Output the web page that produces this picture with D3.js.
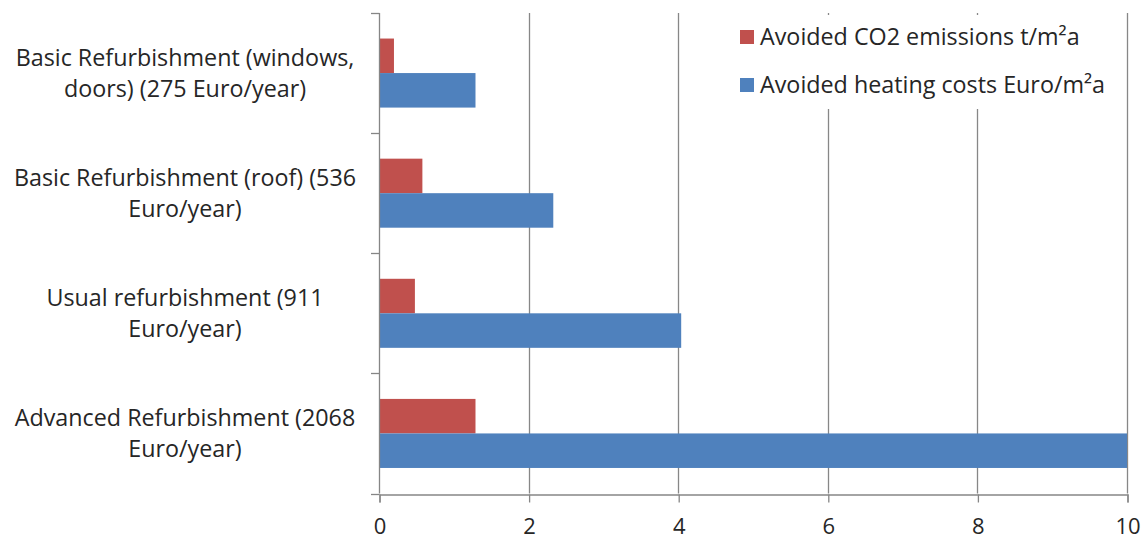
<!DOCTYPE html>
<html>
<head>
<meta charset="utf-8">
<script src="https://cdn.jsdelivr.net/npm/d3@7"></script>
<style>
  html, body { margin: 0; padding: 0; background: #fff; }
  svg text { font-family: "Open Sans", "Lato", sans-serif; fill: #262626; }
</style>
</head>
<body>
<svg id="chart" width="1145" height="541"></svg>
<script>
// Category labels, one entry per wrapped line
const categories = [
  "Basic Refurbishment (windows, doors) (275 Euro/year)",
  "Basic Refurbishment (roof) (536 Euro/year)",
  "Usual refurbishment (911 Euro/year)",
  "Advanced Refurbishment (2068 Euro/year)"
];
const categoryLines = [
  ["Basic Refurbishment (windows,", "doors) (275 Euro/year)"],
  ["Basic Refurbishment (roof) (536", "Euro/year)"],
  ["Usual refurbishment (911", "Euro/year)"],
  ["Advanced Refurbishment (2068", "Euro/year)"]
];
const seriesNames = ["Avoided CO2 emissions t/m²a", "Avoided heating costs Euro/m²a"];
const co2Values = [0.2, 0.58, 0.48, 1.29];
const heatingValues = [1.29, 2.33, 4.04, 10];
const xTicks = [0, 2, 4, 6, 8, 10];
const seriesColors = ["#C0504D", "#4F81BD"];

const svg = d3.select("#chart");
const plot = { left: 379, right: 1127, top: 13, bottom: 493.5 };
const fontSize = 23.3;
const tickFontSize = 22;

const x = d3.scaleLinear().domain([0, 10]).range([plot.left, plot.right]);
const y = d3.scaleBand().domain(categories).range([plot.top, plot.bottom]).padding(0);
const ySub = d3.scaleBand().domain(seriesNames).range([0, y.bandwidth()])
  .paddingInner(0).paddingOuter(0.74);

// vertical gridlines
svg.append("g").selectAll("line").data(xTicks.filter(d => d > 0)).join("line")
  .attr("x1", d => Math.round(x(d)) + 0.5).attr("x2", d => Math.round(x(d)) + 0.5)
  .attr("y1", plot.top).attr("y2", plot.bottom)
  .attr("stroke", "#878787").attr("stroke-width", 1.3);

// bars
const rows = categories.map((c, i) => ({ cat: c, vals: [co2Values[i], heatingValues[i]] }));
const groups = svg.append("g").selectAll("g").data(rows).join("g")
  .attr("transform", d => `translate(0,${y(d.cat)})`);
groups.selectAll("rect").data(d => d.vals.map((v, k) => ({ v, k }))).join("rect")
  .attr("x", x(0))
  .attr("y", d => ySub(seriesNames[d.k]))
  .attr("width", d => x(d.v) - x(0))
  .attr("height", ySub.bandwidth())
  .attr("fill", d => seriesColors[d.k]);

// y axis (category) with ticks at band boundaries
const axisColor = "#868686";
svg.append("line")
  .attr("x1", plot.left + 0.5).attr("x2", plot.left + 0.5)
  .attr("y1", plot.top).attr("y2", plot.bottom)
  .attr("stroke", axisColor).attr("stroke-width", 1.3);
const bounds = categories.map(c => y(c)).concat([plot.bottom]);
svg.append("g").selectAll("line").data(bounds).join("line")
  .attr("x1", plot.left - 8).attr("x2", plot.left + 0.5)
  .attr("y1", d => Math.round(d) + 0.5).attr("y2", d => Math.round(d) + 0.5)
  .attr("stroke", axisColor).attr("stroke-width", 1.3);

// x axis
const xAxis = d3.axisBottom(x).tickValues(xTicks).tickSize(8).tickPadding(16).tickFormat(d3.format("d"));
const gx = svg.append("g").attr("transform", `translate(0.5,${Math.round(plot.bottom) + 0.5})`).call(xAxis);
gx.select(".domain").attr("stroke", axisColor).attr("stroke-width", 1.3);
gx.selectAll(".tick line").attr("stroke", axisColor).attr("stroke-width", 1.3);
gx.selectAll(".tick text").attr("font-size", tickFontSize).attr("font-family", null).attr("fill", "#262626");

// category labels
const labelX = 185;
const lineGap = 31;
svg.append("g").selectAll("text").data(rows).join("text")
  .attr("text-anchor", "middle")
  .attr("font-size", fontSize)
  .each(function(d, i) {
    const lines = categoryLines[i];
    const cy = y(d.cat) + y.bandwidth() / 2;
    const t = d3.select(this);
    lines.forEach((ln, j) => {
      t.append("tspan").attr("x", labelX)
        .attr("y", cy + (j - (lines.length - 1) / 2) * lineGap)
        .attr("dy", "0.35em").text(ln);
    });
  });

// legend
const legend = svg.append("g");
legend.append("rect").attr("x", 732).attr("y", 15).attr("width", 388).attr("height", 94).attr("fill", "#fff");
const legendRows = [37, 85];
seriesNames.forEach((name, k) => {
  legend.append("rect").attr("x", 740).attr("y", legendRows[k] - 7).attr("width", 14).attr("height", 14)
    .attr("fill", seriesColors[k]);
  legend.append("text").attr("x", 760).attr("y", legendRows[k]).attr("dy", "0.35em")
    .attr("font-size", fontSize).text(name);
});
</script>
</body>
</html>
